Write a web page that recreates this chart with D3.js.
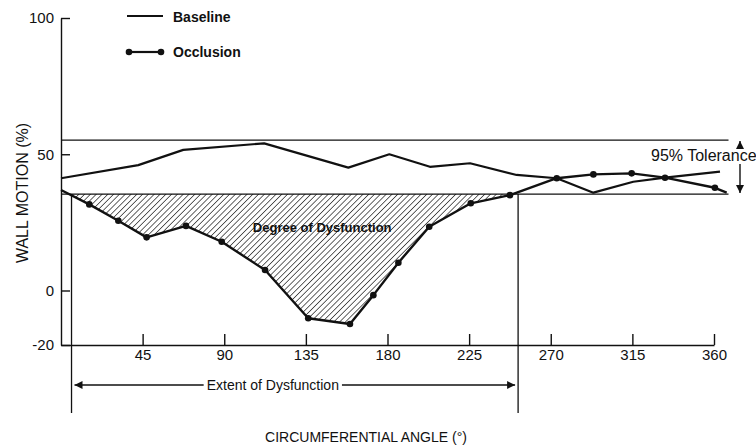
<!DOCTYPE html>
<html>
<head>
<meta charset="utf-8">
<script src="https://cdn.jsdelivr.net/npm/d3@7"></script>
<style>
  body { margin: 0; background: #fff; }
  svg { display: block; font-family: "Liberation Sans", Arial, sans-serif; }
  .axis path, .axis line { stroke: #111; stroke-width: 1.4; }
  .axis text { font-size: 15px; fill: #111; }
</style>
</head>
<body>
<div class="container"></div>
<script>
// occlusion curve (angle in degrees, wall motion in %)
var occlusionAngles = [0, 15.6, 31.6, 47.2, 68.9, 88.6, 112.5, 136.3, 159.3, 172.2, 186, 203, 225.9, 247.5, 273.3, 293.5, 314.6, 333, 360.5, 367];
var occlusionValues = [36.9, 31.6, 25.6, 19.5, 23.7, 17.9, 7.5, -10.2, -12.3, -1.7, 10.2, 23.4, 32, 35, 41.2, 42.6, 43, 41.4, 37.7, 35.9];

var baselineAngles = [0, 42.6, 67.4, 112, 158.4, 181, 203.4, 225.5, 251.2, 273.3, 293.5, 315.5, 333, 363.3];
var baselineValues = [41.2, 46, 51.6, 54, 45.1, 50, 45.4, 46.7, 42.4, 41.2, 35.9, 39.9, 41.4, 43.6];

var toleranceUpper = 55.2;
var toleranceLower = 35.4;
var toleranceEnd = 368;

var extentStart = 5.8;
var extentEnd = 252;

var xTicks = [45, 90, 135, 180, 225, 270, 315, 360];
var yTicks = [-20, 0, 50, 100];

var WIDTH = 756, HEIGHT = 447;

document.addEventListener('DOMContentLoaded', function () {
    var svg = d3.select('.container')
        .append('svg')
        .attr('width', WIDTH)
        .attr('height', HEIGHT);

    var x = d3.scaleLinear().domain([0, 360]).range([61, 714]);
    var y = d3.scaleLinear().domain([-20, 100]).range([345, 18]);

    var occlusion = occlusionAngles.map(function (a, i) {
        return { a: a, v: occlusionValues[i] };
    });
    var baseline = baselineAngles.map(function (a, i) {
        return { a: a, v: baselineValues[i] };
    });

    var defs = svg.append('defs');
    var pattern = defs.append('pattern')
        .attr('id', 'hatch')
        .attr('patternUnits', 'userSpaceOnUse')
        .attr('width', 4.1)
        .attr('height', 4.1)
        .attr('patternTransform', 'rotate(45)');
    pattern.append('line')
        .attr('x1', 0).attr('y1', 0)
        .attr('x2', 0).attr('y2', 4.1)
        .attr('stroke', '#111')
        .attr('stroke-width', 1.3);

    defs.append('clipPath')
        .attr('id', 'below-tol')
        .append('rect')
        .attr('x', x(0))
        .attr('y', y(toleranceLower))
        .attr('width', x(toleranceEnd) - x(0))
        .attr('height', y(-20) - y(toleranceLower));

    // hatched degree of dysfunction
    var area = d3.area()
        .x(function (d) { return x(d.a); })
        .y0(y(toleranceLower))
        .y1(function (d) { return y(d.v); });

    svg.append('path')
        .datum(occlusion)
        .attr('d', area)
        .attr('fill', 'url(#hatch)')
        .attr('clip-path', 'url(#below-tol)');

    // tolerance band
    [toleranceUpper, toleranceLower].forEach(function (t) {
        svg.append('line')
            .attr('x1', x(0)).attr('x2', x(toleranceEnd))
            .attr('y1', y(t)).attr('y2', y(t))
            .attr('stroke', '#111')
            .attr('stroke-width', 1.3);
    });

    // axes
    svg.append('g')
        .attr('class', 'axis')
        .attr('transform', 'translate(' + x(0) + ',0)')
        .call(d3.axisLeft(y).tickValues(yTicks).tickFormat(String)
            .tickSize(-9).tickSizeOuter(0).tickPadding(7));

    svg.append('g')
        .attr('class', 'axis')
        .attr('transform', 'translate(0,' + y(-20) + ')')
        .call(d3.axisBottom(x).tickValues(xTicks).tickFormat(String)
            .tickSize(-11).tickSizeOuter(0).tickPadding(4));

    var line = d3.line()
        .x(function (d) { return x(d.a); })
        .y(function (d) { return y(d.v); });

    svg.append('path')
        .datum(baseline)
        .attr('d', line)
        .attr('fill', 'none')
        .attr('stroke', '#111')
        .attr('stroke-width', 2.2)
        .attr('stroke-linejoin', 'round');

    svg.append('path')
        .datum(occlusion)
        .attr('d', line)
        .attr('fill', 'none')
        .attr('stroke', '#111')
        .attr('stroke-width', 2.4)
        .attr('stroke-linejoin', 'round');

    svg.selectAll('.dot')
        .data(occlusion.slice(1, -1))
        .enter()
        .append('circle')
        .attr('class', 'dot')
        .attr('cx', function (d) { return x(d.a); })
        .attr('cy', function (d) { return y(d.v); })
        .attr('r', 3.3)
        .attr('fill', '#111');

    svg.append('text')
        .attr('x', x(144))
        .attr('y', y(23.3))
        .attr('dy', '0.35em')
        .attr('text-anchor', 'middle')
        .attr('font-size', 13)
        .attr('font-weight', 'bold')
        .attr('fill', '#111')
        .text('Degree of Dysfunction');

    // extent of dysfunction
    var extentBottom = 413, arrowY = 385;
    [extentStart, extentEnd].forEach(function (a) {
        svg.append('line')
            .attr('x1', x(a)).attr('x2', x(a))
            .attr('y1', y(toleranceLower)).attr('y2', extentBottom)
            .attr('stroke', '#111')
            .attr('stroke-width', 1.3);
    });

    defs.append('marker')
        .attr('id', 'arrow')
        .attr('viewBox', '0 0 10 10')
        .attr('refX', 10).attr('refY', 5)
        .attr('markerWidth', 12).attr('markerHeight', 8)
        .attr('markerUnits', 'userSpaceOnUse')
        .attr('orient', 'auto-start-reverse')
        .append('path')
        .attr('d', 'M0,0L10,5L0,10Z')
        .attr('fill', '#111');

    var extentLabel = svg.append('text')
        .attr('x', (x(extentStart) + x(extentEnd)) / 2 - 22)
        .attr('y', arrowY)
        .attr('dy', '0.35em')
        .attr('text-anchor', 'middle')
        .attr('font-size', 14)
        .attr('fill', '#111')
        .text('Extent of Dysfunction');
    var lb = extentLabel.node().getBBox();

    svg.append('line')
        .attr('x1', lb.x - 3).attr('x2', x(extentStart) + 3)
        .attr('y1', arrowY).attr('y2', arrowY)
        .attr('stroke', '#111').attr('stroke-width', 1.4)
        .attr('marker-end', 'url(#arrow)');
    svg.append('line')
        .attr('x1', lb.x + lb.width + 3).attr('x2', x(extentEnd) - 3)
        .attr('y1', arrowY).attr('y2', arrowY)
        .attr('stroke', '#111').attr('stroke-width', 1.4)
        .attr('marker-end', 'url(#arrow)');

    // 95% tolerance
    var tolX = 740;
    svg.append('text')
        .attr('x', 651)
        .attr('y', 155)
        .attr('dy', '0.35em')
        .attr('font-size', 16)
        .attr('fill', '#111')
        .text('95% Tolerance');
    svg.append('line')
        .attr('x1', tolX).attr('x2', tolX)
        .attr('y1', 147).attr('y2', y(toleranceUpper) + 1)
        .attr('stroke', '#111').attr('stroke-width', 1.4)
        .attr('marker-end', 'url(#arrow)');
    svg.append('line')
        .attr('x1', tolX).attr('x2', tolX)
        .attr('y1', 164).attr('y2', y(toleranceLower) - 1)
        .attr('stroke', '#111').attr('stroke-width', 1.4)
        .attr('marker-end', 'url(#arrow)');

    // axis titles
    svg.append('text')
        .attr('transform', 'translate(22,' + 193 + ') rotate(-90)')
        .attr('dy', '0.35em')
        .attr('text-anchor', 'middle')
        .attr('font-size', 16)
        .attr('fill', '#111')
        .text('WALL MOTION (%)');

    svg.append('text')
        .attr('x', 366)
        .attr('y', 437)
        .attr('dy', '0.35em')
        .attr('text-anchor', 'middle')
        .attr('font-size', 14)
        .attr('fill', '#111')
        .text('CIRCUMFERENTIAL ANGLE (°)');

    // legend
    var legend = svg.append('g').attr('class', 'legend');
    legend.append('line')
        .attr('x1', 127).attr('x2', 163).attr('y1', 16).attr('y2', 16)
        .attr('stroke', '#111').attr('stroke-width', 2.2);
    legend.append('line')
        .attr('x1', 129).attr('x2', 161).attr('y1', 52).attr('y2', 52)
        .attr('stroke', '#111').attr('stroke-width', 2.2);
    [129, 161].forEach(function (cx) {
        legend.append('circle')
            .attr('cx', cx).attr('cy', 52).attr('r', 3.3).attr('fill', '#111');
    });
    legend.selectAll('text')
        .data(['Baseline', 'Occlusion'])
        .enter()
        .append('text')
        .attr('x', 173)
        .attr('y', function (d, i) { return 17 + i * 35; })
        .attr('dy', '0.35em')
        .attr('font-size', 14)
        .attr('font-weight', 'bold')
        .attr('fill', '#111')
        .text(function (d) { return d; });
});
</script>
</body>
</html>
